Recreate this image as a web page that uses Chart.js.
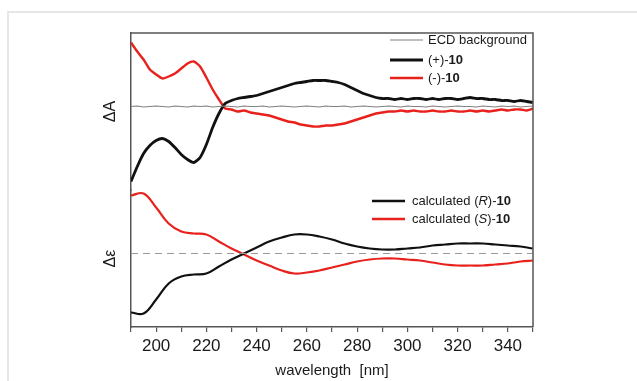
<!DOCTYPE html>
<html>
<head>
<meta charset="utf-8">
<script src="https://cdn.jsdelivr.net/npm/chart.js@4.4.1/dist/chart.umd.min.js"></script>
<style>
html,body{margin:0;padding:0;background:#fff;overflow:hidden;}
#wrap{position:relative;width:637px;height:381px;overflow:hidden;}
#frame{position:absolute;left:7px;top:11px;width:700px;height:500px;border-top:2px solid #e6e6e6;border-left:2px solid #e6e6e6;}
canvas{position:absolute;left:0;top:0;}
</style>
</head>
<body>
<div id="wrap"><div id="frame"></div><canvas id="c" width="637" height="381"></canvas></div>
<script>
// ---- data ----
const wavelengthExp = [
  190,192.5,195,197.5,200,202.5,205,207.5,210,212.5,215,217.5,220,222.5,225,227.5,
  230,232.5,235,237.5,240,242.5,245,247.5,250,252.5,255,257.5,260,262.5,265,267.5,
  270,272.5,275,277.5,280,282.5,285,287.5,290,292.5,295,297.5,300,302.5,305,307.5,
  310,312.5,315,317.5,320,322.5,325,327.5,330,332.5,335,337.5,340,342.5,345,347.5,
  350];
const ecdBackground = [
  0,0.5,-0.5,0,0.5,0,-0.5,0.5,0,-0.5,0.5,0,0.5,-0.5,0,0.5,
  0,-0.5,0.5,0,0,0.5,-0.5,0,0.5,0,-0.5,0,0.5,0,-0.5,0.5,
  0,0,0.5,-0.5,0,0.5,0,-0.5,0,0.5,0,-0.5,0.5,0,0,-0.5,
  0.5,0,-0.5,0,0.5,0,0,-0.5,0.5,0,-0.5,0.5,0,0.5,-0.5,0,
  0.5];
const plus10 = [
  -75,-60,-47,-39,-34,-32,-35,-41,-48,-53,-56,-51,-38,-21,-7,3,
  6,8,9,10,11,13,15,17,19,21,23,24,25,26,26,26,
  25,24,22,19,16,13,11,9,8,8,7,8,7,8,8,7,
  8,7,8,8,7,8,9,8,8,7,7,6,6,5,6,5,
  4];
const minus10 = [
  64,55,47,37,32,28,30,33,38,43,45,40,29,17,7,-2,
  -3,-5,-4,-6,-7,-8,-9,-11,-13,-15,-16,-18,-19,-20,-20,-19,
  -19,-18,-17,-15,-13,-11,-9,-7,-6,-5,-5,-4,-5,-4,-5,-5,
  -4,-5,-5,-4,-5,-5,-4,-5,-4,-5,-4,-3,-4,-3,-3,-4,
  -2];
const wavelengthCalc = [190,195,200,205,210,215,220,225,230,235,240,245,250,255,260,265,
  270,275,280,285,290,295,300,305,310,315,320,325,330,335,340,345,350];
const calcR = [-59,-60,-46,-30,-23,-21,-20,-13,-6,0,6,12,16,19,19,17,
  14,10,7,5,4,4,5,6,8,9,10,10,10,9,8,7,5];
const calcS = [58,60,46,30,22,20,19,12,5,-1,-7,-12,-17,-20,-19,-17,
  -14,-11,-8,-6,-5,-5,-6,-7,-9,-11,-12,-12,-12,-11,-10,-8,-7];
const zeroLineX = [190,350];
const zeroLineY = [0,0];
const xTickLabels = [200,220,240,260,280,300,320,340];

const RED = '#e8211d', BLACK = '#111111', GRAY = '#808080', AXIS = '#555555', TEXT = '#1a1a1a';
const FONT = "'Liberation Sans', Arial, sans-serif";
const pts = (xs, ys) => xs.map((x, i) => ({x, y: ys[i]}));

function drawRich(ctx, parts, x, y) {
  let cx = x;
  parts.forEach(p => {
    ctx.font = (p.i ? 'italic ' : '') + (p.b ? 'bold ' : '') + '13px ' + FONT;
    ctx.fillText(p.t, cx, y);
    cx += ctx.measureText(p.t).width;
  });
}

const decorPlugin = {
  id: 'decor',
  afterDraw(chart) {
    const {ctx, chartArea: ca} = chart;
    ctx.save();
    // frame top & right
    ctx.strokeStyle = AXIS; ctx.lineWidth = 1.5;
    ctx.beginPath();
    ctx.moveTo(ca.left, ca.top); ctx.lineTo(ca.right, ca.top); ctx.lineTo(ca.right, ca.bottom);
    ctx.stroke();
    ctx.fillStyle = TEXT; ctx.textBaseline = 'middle'; ctx.textAlign = 'left';
    const line = (x1, x2, y, color, w) => {
      ctx.strokeStyle = color; ctx.lineWidth = w;
      ctx.beginPath(); ctx.moveTo(x1, y); ctx.lineTo(x2, y); ctx.stroke();
    };
    // upper legend
    const ux1 = ca.right - 143, ux2 = ca.right - 110, ut = ca.right - 105;
    line(ux1, ux2, ca.top + 7, GRAY, 1.2);
    drawRich(ctx, [{t: 'ECD background'}], ut, ca.top + 7);
    line(ux1, ux2, ca.top + 27, BLACK, 3);
    drawRich(ctx, [{t: '(+)-'}, {t: '10', b: true}], ut, ca.top + 27);
    line(ux1, ux2, ca.top + 45, RED, 2.5);
    drawRich(ctx, [{t: '(-)-'}, {t: '10', b: true}], ut, ca.top + 45);
    // lower legend
    const lx1 = ca.right - 161, lx2 = ca.right - 128, lt = ca.right - 121;
    line(lx1, lx2, ca.top + 168, BLACK, 2.5);
    drawRich(ctx, [{t: 'calculated ('}, {t: 'R', i: true}, {t: ')-'}, {t: '10', b: true}], lt, ca.top + 168);
    line(lx1, lx2, ca.top + 186, RED, 2.5);
    drawRich(ctx, [{t: 'calculated ('}, {t: 'S', i: true}, {t: ')-'}, {t: '10', b: true}], lt, ca.top + 186);
    ctx.restore();
  }
};

new Chart(document.getElementById('c'), {
  type: 'line',
  data: {
    datasets: [
      {label: 'zero', data: pts(zeroLineX, zeroLineY), yAxisID: 'yE', borderColor: '#9a9a9a', borderWidth: 1.2, borderDash: [7, 5], pointRadius: 0},
      {label: 'calculated (R)-10', data: pts(wavelengthCalc, calcR), yAxisID: 'yE', borderColor: BLACK, borderWidth: 2.2, pointRadius: 0, tension: 0.4},
      {label: 'calculated (S)-10', data: pts(wavelengthCalc, calcS), yAxisID: 'yE', borderColor: RED, borderWidth: 2.2, pointRadius: 0, tension: 0.4},
      {label: 'ECD background', data: pts(wavelengthExp, ecdBackground), yAxisID: 'yA', borderColor: GRAY, borderWidth: 1.2, pointRadius: 0, tension: 0},
      {label: '(+)-10', data: pts(wavelengthExp, plus10), yAxisID: 'yA', borderColor: BLACK, borderWidth: 2.8, pointRadius: 0, tension: 0.2},
      {label: '(-)-10', data: pts(wavelengthExp, minus10), yAxisID: 'yA', borderColor: RED, borderWidth: 2.4, pointRadius: 0, tension: 0.2}
    ]
  },
  options: {
    responsive: false, animation: false, devicePixelRatio: 1,
    layout: {padding: {left: 97, right: 104, top: 33, bottom: 0}},
    plugins: {legend: {display: false}, tooltip: {enabled: false}},
    scales: {
      x: {
        type: 'linear', position: 'bottom', min: 190, max: 350,
        ticks: {stepSize: 10, autoSkip: false, maxRotation: 0, color: TEXT, font: {size: 17, family: FONT}, padding: 4,
          callback: v => xTickLabels.includes(v) ? String(v) : ''},
        grid: {drawOnChartArea: false, drawTicks: true, tickLength: 5, color: AXIS, lineWidth: 1.2},
        border: {color: AXIS, width: 1.5},
        title: {display: true, text: 'wavelength  [nm]', color: TEXT, font: {size: 15, family: FONT}, padding: {top: 0, bottom: 1}},
        afterFit: s => { s.height = 54; }
      },
      yE: {
        type: 'linear', position: 'left', stack: 'panels', stackWeight: 137, min: -73.5, max: 63.5,
        ticks: {display: false}, grid: {display: false},
        border: {color: AXIS, width: 1.5},
        title: {display: true, text: 'Δε', color: TEXT, font: {size: 16, family: FONT}, padding: {top: 4, bottom: 0}},
        afterFit: s => { s.width = 34; }
      },
      yA: {
        type: 'linear', position: 'left', stack: 'panels', stackWeight: 157, min: -83.5, max: 73.5,
        ticks: {display: false}, grid: {display: false},
        border: {color: AXIS, width: 1.5},
        title: {display: true, text: 'ΔA', color: TEXT, font: {size: 16, family: FONT}, padding: {top: 4, bottom: 0}},
        afterFit: s => { s.width = 34; }
      }
    }
  },
  plugins: [decorPlugin]
});
</script>
</body>
</html>
